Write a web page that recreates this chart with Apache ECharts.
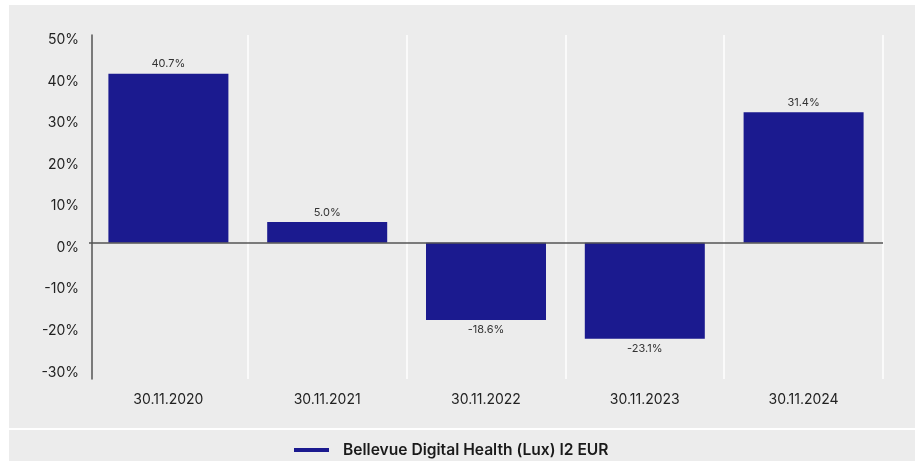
<!DOCTYPE html>
<html>
<head>
<meta charset="utf-8">
<script src="https://cdn.jsdelivr.net/npm/echarts@6/dist/echarts.min.js"></script>
<style>
html,body{margin:0;padding:0;background:#ffffff;}
#chart{width:920px;height:461px;}
</style>
</head>
<body>
<div id="chart"></div>
<script>
const categories = ['30.11.2020', '30.11.2021', '30.11.2022', '30.11.2023', '30.11.2024'];
const values = [40.7, 5.0, -18.6, -23.1, 31.4];
const yTickValues = [-30, -20, -10, 0, 10, 20, 30, 40, 50];
const seriesName = 'Bellevue Digital Health (Lux) I2 EUR';

const font = 'Inter, "Noto Sans", sans-serif';
const chart = echarts.init(document.getElementById('chart'), null, {renderer: 'canvas'});
chart.setOption({
  animation: false,
  backgroundColor: '#ffffff',
  graphic: [
    {type: 'rect', z: -10, silent: true, shape: {x: 9, y: 5, width: 906, height: 423}, style: {fill: '#ececec'}},
    {type: 'rect', z: -10, silent: true, shape: {x: 9, y: 430, width: 906, height: 31}, style: {fill: '#ececec'}}
  ],
  grid: {left: 89, right: 37, top: 35, bottom: 82, containLabel: false},
  legend: {
    data: [seriesName],
    top: 437,
    left: 289,
    icon: 'rect',
    itemWidth: 35,
    itemHeight: 4,
    itemGap: 10,
    textStyle: {fontFamily: font, fontSize: 15.6, fontWeight: 600, color: '#1a1a1a', padding: [0, 0, 0, 9]}
  },
  xAxis: {
    type: 'category',
    data: categories,
    axisLine: {show: false, onZero: false},
    axisTick: {show: false},
    axisLabel: {fontFamily: font, fontSize: 14, color: '#222', margin: 14},
    splitLine: {show: true, interval: (i) => i !== 0, lineStyle: {color: '#ffffff', width: 1.5}}
  },
  yAxis: {
    type: 'value',
    min: -32.8,
    max: 50,
    offset: -3,
    axisLine: {show: true, lineStyle: {color: '#555', width: 1.5}},
    axisTick: {show: false},
    splitLine: {show: false},
    axisLabel: {
      customValues: yTickValues,
      margin: 13,
      formatter: v => '{t|' + Math.round(v) + '%}',
      rich: {
        t: {fontFamily: font, fontSize: 14, color: '#222', padding: [10, 0, 0, 0]}
      }
    }
  },
  series: [{
    name: seriesName,
    type: 'bar',
    data: values,
    barWidth: 120,
    itemStyle: {color: '#1b1a8f'},
    label: {
      show: true,
      position: 'outside',
      fontFamily: font,
      fontSize: 11,
      color: '#333',
      distance: 4,
      formatter: p => p.value.toFixed(1) + '%'
    },
    markLine: {
      silent: true,
      symbol: 'none',
      label: {show: false},
      lineStyle: {color: '#555', width: 1.5, type: 'solid'},
      data: [{yAxis: 0}]
    }
  }]
});
</script>
</body>
</html>
